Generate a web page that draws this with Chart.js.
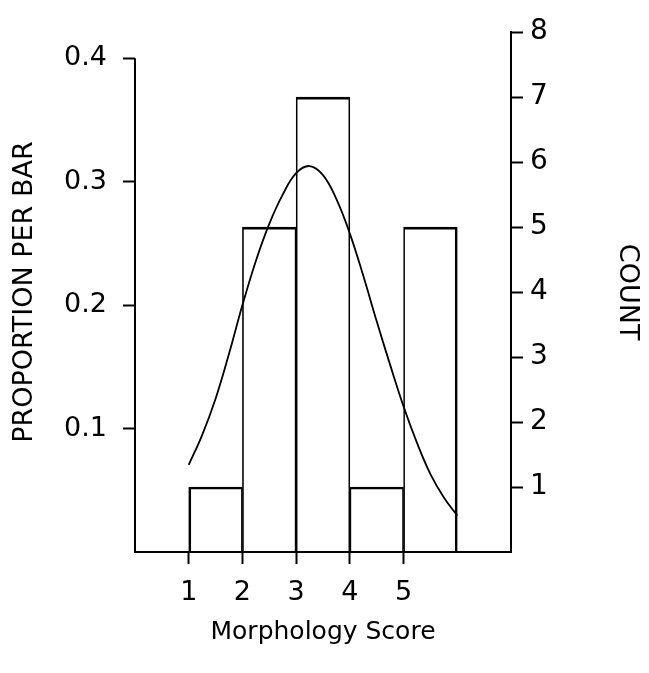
<!DOCTYPE html>
<html>
<head>
<meta charset="utf-8">
<script src="https://cdn.jsdelivr.net/npm/chart.js@4/dist/chart.umd.min.js"></script>
<style>
  html, body { margin: 0; padding: 0; background: #fff; }
  #wrap { width: 649px; height: 673px; }
</style>
</head>
<body>
<div id="wrap"><canvas id="histChart"></canvas></div>
<script>
// histogram bins (centres) and counts
const binCentres = [1.5, 2.5, 3.5, 4.5, 5.5];
const binCounts = [1, 5, 7, 1, 5];
const totalCount = 19;

// fitted curve (count scale)
const curveX = [1, 1.25, 1.5, 1.75, 2, 2.25, 2.5, 2.75, 3, 3.25, 3.5, 3.75, 4, 4.25, 4.5, 4.75, 5, 5.25, 5.5, 5.75, 6];
const curveY = [1.34, 1.8, 2.36, 3.05, 3.8, 4.48, 5.05, 5.5, 5.83, 5.94, 5.8, 5.43, 4.9, 4.25, 3.55, 2.88, 2.24, 1.68, 1.2, 0.84, 0.56];

// tick labels
const xTicks = [1, 2, 3, 4, 5];
const propTicks = [0.1, 0.2, 0.3, 0.4];
const countTicks = [1, 2, 3, 4, 5, 6, 7, 8];

const FONT = "'DejaVu Sans', sans-serif";

// left axis line only runs up to the last proportion tick
const leftAxisLine = {
  id: 'leftAxisLine',
  afterDraw(chart) {
    const y = chart.scales.y;
    const ctx = chart.ctx;
    ctx.save();
    ctx.strokeStyle = '#000';
    ctx.lineWidth = 2;
    ctx.beginPath();
    ctx.moveTo(chart.chartArea.left, y.getPixelForValue(0) + 1);
    ctx.lineTo(chart.chartArea.left, y.getPixelForValue(propTicks[propTicks.length - 1]));
    ctx.stroke();
    ctx.restore();
  }
};

const ctx = document.getElementById('histChart').getContext('2d');
new Chart(ctx, {
  type: 'bar',
  data: {
    datasets: [
      {
        type: 'line',
        data: curveX.map((x, i) => ({ x: x, y: curveY[i] })),
        yAxisID: 'y1',
        borderColor: '#000',
        borderWidth: 1.8,
        pointRadius: 0,
        fill: false,
        tension: 0.4,
        order: 0
      },
      {
        type: 'bar',
        data: binCentres.map((x, i) => ({ x: x, y: binCounts[i] })),
        yAxisID: 'y1',
        backgroundColor: 'rgba(0,0,0,0)',
        borderColor: '#000',
        borderWidth: function(c) {
          return {
            top: 2,
            left: c.dataIndex === 0 ? 2 : 1,
            right: c.dataIndex === binCentres.length - 1 ? 2 : 1,
            bottom: 0
          };
        },
        borderSkipped: 'start',
        barPercentage: 1,
        categoryPercentage: 1,
        order: 1
      }
    ]
  },
  options: {
    responsive: true,
    maintainAspectRatio: false,
    animation: false,
    layout: { padding: { top: 20 } },
    scales: {
      x: {
        type: 'linear',
        offset: false,
        min: 0,
        max: 7,
        afterBuildTicks: function(scale) {
          scale.ticks = xTicks.map(v => ({ value: v }));
        },
        afterFit: function(scale) { scale.height = 121; },
        grid: {
          offset: false,
          drawOnChartArea: false,
          drawTicks: true,
          tickLength: 12,
          tickColor: '#000',
          tickWidth: 2
        },
        border: { display: true, color: '#000', width: 2 },
        ticks: {
          color: '#000',
          padding: 13,
          font: { family: FONT, size: 27 }
        },
        title: {
          display: true,
          text: 'Morphology Score',
          color: '#000',
          font: { family: FONT, size: 25 },
          padding: { top: 0, bottom: 26 }
        }
      },
      y: {
        position: 'left',
        min: 0,
        max: 8 / totalCount,
        afterBuildTicks: function(scale) {
          scale.ticks = propTicks.map(v => ({ value: v }));
        },
        afterFit: function(scale) { scale.width = 135; },
        grid: {
          drawOnChartArea: false,
          drawTicks: true,
          tickLength: 12,
          tickColor: '#000',
          tickWidth: 2
        },
        border: { display: false },
        ticks: {
          color: '#000',
          padding: 16,
          font: { family: FONT, size: 27 },
          callback: v => v.toFixed(1)
        },
        title: {
          display: true,
          text: 'PROPORTION PER BAR',
          color: '#000',
          font: { family: FONT, size: 27 },
          padding: { top: 9, bottom: 0 }
        }
      },
      y1: {
        position: 'right',
        min: 0,
        max: 8,
        afterBuildTicks: function(scale) {
          scale.ticks = countTicks.map(v => ({ value: v }));
        },
        afterFit: function(scale) { scale.width = 138; },
        grid: {
          drawOnChartArea: false,
          drawTicks: true,
          tickLength: 12,
          tickColor: '#000',
          tickWidth: 2
        },
        border: { display: true, color: '#000', width: 2 },
        ticks: {
          color: '#000',
          padding: 7,
          font: { family: FONT, size: 28 }
        },
        title: {
          display: true,
          text: 'COUNT',
          color: '#000',
          font: { family: FONT, size: 27 },
          padding: { top: 6, bottom: 0 }
        }
      }
    },
    plugins: {
      legend: { display: false },
      tooltip: { enabled: false }
    }
  },
  plugins: [leftAxisLine]
});
</script>
</body>
</html>
